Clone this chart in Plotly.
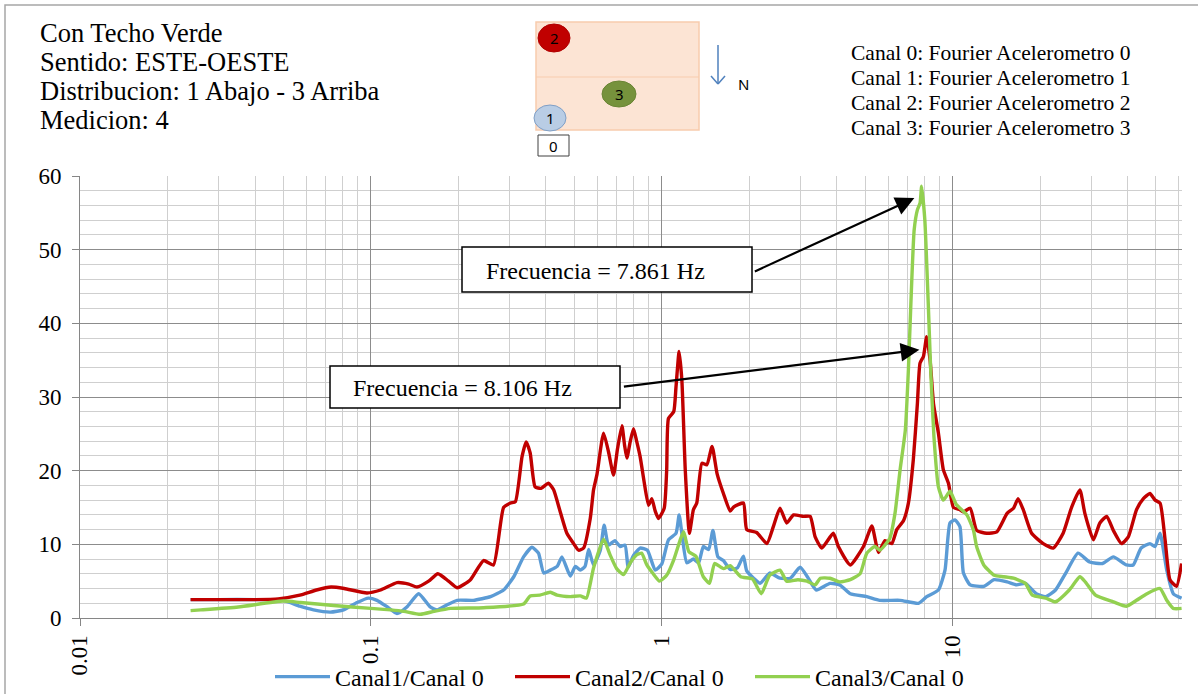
import numpy as np
import plotly.graph_objects as go

# ---------------- data ----------------
freq_c1 = [0.024, 0.030, 0.040, 0.050, 0.057, 0.0635, 0.0726, 0.0806, 0.0897, 0.098, 0.105, 0.114, 0.123, 0.133,
           0.146, 0.160, 0.169, 0.183, 0.198, 0.225, 0.258, 0.286, 0.310, 0.335, 0.358, 0.377, 0.393, 0.414, 0.437,
           0.454, 0.485, 0.505, 0.525, 0.545, 0.561, 0.583, 0.615, 0.634, 0.656, 0.690, 0.720, 0.748, 0.767, 0.800,
           0.843, 0.893, 0.950, 1.00, 1.055, 1.12, 1.148, 1.173, 1.22, 1.285, 1.34, 1.39, 1.45, 1.50, 1.56, 1.63,
           1.72, 1.82, 1.91, 1.96, 2.07, 2.18, 2.35, 2.55, 2.77, 2.99, 3.18, 3.40, 3.79, 4.09, 4.45, 5.07, 5.62,
           6.60, 7.63, 8.15, 8.94, 9.42, 9.80, 10.2, 10.6, 10.9, 11.5, 12.8, 13.9, 15.4, 16.6, 17.8, 19.4, 20.9,
           22.6, 24.5, 27.0, 29.6, 32.8, 35.7, 39.6, 41.8, 44.5, 47.7, 49.7, 51.7, 54.5, 57.4, 61.3]
val_c1 = [2.5, 2.5, 2.5, 2.4, 1.6, 1.1, 0.8, 1.1, 2.1, 2.7, 2.4, 1.5, 0.6, 1.5,
          3.3, 1.5, 1.1, 1.8, 2.4, 2.4, 2.9, 3.8, 5.6, 8.3, 9.6, 8.8, 6.1, 6.5, 7.0,
          8.3, 5.7, 7.0, 6.5, 7.0, 9.3, 7.2, 9.2, 12.6, 9.9, 10.5, 9.7, 9.9, 6.9, 8.5,
          9.5, 9.2, 6.5, 7.3, 10.6, 11.5, 14.0, 11.5, 7.5, 8.0, 7.5, 9.7, 9.3, 11.9, 8.3, 7.8,
          6.6, 6.8, 8.4, 6.4, 5.4, 4.7, 6.1, 5.4, 5.4, 6.9, 5.5, 3.8, 4.7, 4.5, 3.3, 2.9, 2.4,
          2.4, 2.0, 2.9, 3.8, 6.5, 12.9, 13.3, 12.4, 6.1, 4.5, 4.3, 5.2, 4.9, 4.5, 4.7, 3.3, 2.9,
          3.8, 6.1, 8.8, 7.6, 7.4, 8.3, 7.2, 7.2, 9.5, 10.1, 9.7, 11.5, 6.5, 3.3, 2.7]

freq_c2 = [0.024, 0.030, 0.040, 0.048, 0.057, 0.065, 0.073, 0.081, 0.097, 0.108, 0.123, 0.135, 0.144, 0.158,
           0.170, 0.185, 0.198, 0.220, 0.244, 0.264, 0.286, 0.302, 0.314, 0.331, 0.342, 0.353, 0.367, 0.385,
           0.408, 0.425, 0.448, 0.472, 0.498, 0.518, 0.539, 0.568, 0.583, 0.599, 0.631, 0.656, 0.683, 0.705,
           0.730, 0.745, 0.759, 0.780, 0.800, 0.820, 0.843, 0.870, 0.901, 0.925, 0.950, 0.975, 1.02, 1.04,
           1.055, 1.10, 1.12, 1.148, 1.173, 1.205, 1.245, 1.285, 1.32, 1.374, 1.43, 1.49, 1.55, 1.63, 1.72,
           1.77, 1.91, 1.96, 2.12, 2.30, 2.42, 2.55, 2.69, 2.84, 3.07, 3.24, 3.37, 3.55, 3.89, 4.05, 4.45,
           4.94, 5.28, 5.56, 5.86, 6.18, 6.43, 6.78, 7.05, 7.33, 7.57, 7.73, 7.94, 8.15, 8.37, 8.60, 8.94,
           9.30, 9.68, 10.07, 10.6, 10.9, 11.5, 12.1, 13.1, 14.2, 15.4, 16.2, 16.8, 17.5, 18.7, 20.5, 22.2,
           24.0, 25.7, 27.4, 28.5, 30.5, 32.1, 33.9, 35.7, 38.1, 40.2, 42.9, 45.3, 47.7, 49.7, 51.7, 53.8,
           55.9, 58.9, 61.3]
val_c2 = [2.5, 2.5, 2.5, 2.6, 3.1, 3.8, 4.2, 4.0, 3.4, 3.8, 4.8, 4.6, 4.2, 5.0,
          6.0, 5.0, 4.1, 5.2, 7.8, 7.2, 15.0, 15.6, 15.8, 21.9, 23.9, 22.4, 17.8, 17.6,
          18.3, 17.4, 14.4, 11.5, 10.1, 9.2, 9.5, 13.5, 17.4, 19.5, 25.1, 22.6, 19.4, 23.0,
          26.1, 23.5, 21.7, 24.0, 25.7, 24.0, 21.9, 18.5, 15.3, 16.2, 14.5, 13.5, 14.9, 20.0,
          27.1, 28.0, 31.4, 36.2, 32.3, 20.1, 11.5, 14.7, 15.6, 21.0, 20.8, 23.3, 19.6, 16.9, 14.5,
          15.1, 15.6, 12.0, 11.6, 10.1, 12.4, 14.9, 12.9, 14.0, 13.8, 13.8, 11.0, 9.5, 11.5, 9.7, 7.2,
          9.7, 12.5, 8.9, 10.5, 10.1, 12.0, 13.2, 15.6, 21.5, 29.1, 34.6, 35.5, 38.2, 35.0, 29.1, 25.1,
          20.1, 18.3, 15.0, 14.7, 14.4, 14.9, 11.9, 11.5, 11.7, 14.2, 14.9, 16.2, 14.7, 11.5, 10.1, 9.5,
          11.5, 15.1, 17.4, 14.2, 10.6, 12.9, 13.8, 11.9, 10.1, 11.0, 14.7, 16.2, 16.9, 16.0, 15.6, 10.6,
          5.2, 4.3, 7.4]

freq_c3 = [0.024, 0.026, 0.035, 0.050, 0.0573, 0.0745, 0.100, 0.117, 0.130, 0.148, 0.165, 0.188, 0.244, 0.335,
           0.353, 0.381, 0.414, 0.437, 0.485, 0.525, 0.551, 0.583, 0.631, 0.664, 0.700, 0.740, 0.780, 0.822,
           0.853, 0.889, 0.935, 0.983, 1.04, 1.10, 1.158, 1.19, 1.24, 1.31, 1.39, 1.46, 1.52, 1.63, 1.72, 1.87,
           2.05, 2.20, 2.35, 2.55, 2.69, 2.94, 3.16, 3.37, 3.51, 3.79, 4.09, 4.45, 4.81, 5.07, 5.41, 5.62, 6.08,
           6.34, 6.60, 6.88, 7.05, 7.19, 7.38, 7.57, 7.73, 7.83, 8.03, 8.25, 8.41, 8.63, 8.94, 9.30, 9.80, 10.3,
           11.2, 11.8, 12.1, 12.8, 13.9, 15.0, 16.2, 17.8, 18.8, 20.9, 22.6, 25.2, 27.4, 28.6, 31.0, 35.7, 39.6,
           42.9, 46.6, 51.7, 54.5, 57.4, 61.3]
val_c3 = [1.0, 1.1, 1.5, 2.3, 2.1, 1.7, 1.3, 1.1, 0.9, 0.5, 0.9, 1.3, 1.4, 1.9,
          3.0, 3.1, 3.5, 3.1, 2.9, 3.0, 2.7, 6.8, 10.7, 8.6, 6.7, 5.9, 7.5, 8.6,
          8.8, 7.2, 6.0, 5.0, 5.8, 7.9, 10.6, 11.7, 9.0, 8.4, 5.6, 4.7, 7.4, 6.7, 7.1, 5.6,
          5.3, 3.3, 5.8, 6.5, 5.0, 5.2, 5.0, 4.5, 5.4, 5.4, 4.9, 5.2, 6.0, 8.8, 9.7, 9.2, 10.8,
          14.2, 20.1, 25.5, 33.7, 42.7, 52.7, 55.4, 56.3, 58.6, 54.0, 42.7, 33.7, 24.6, 17.8, 16.0, 17.2, 15.4,
          14.0, 11.9, 9.7, 7.2, 5.8, 5.6, 5.4, 4.7, 3.1, 2.7, 2.2, 3.8, 5.6, 4.9, 3.1, 2.2, 1.6,
          2.4, 3.3, 4.0, 2.4, 1.3, 1.3]

series_names = ["Canal1/Canal 0", "Canal2/Canal 0", "Canal3/Canal 0"]
series_colors = ["#5B9BD5", "#C00000", "#92D050"]

x_major_ticks = [0.01, 0.1, 1, 10]
x_major_text = ["0.01", "0.1", "1", "10"]
x_minor_ticks = [m * d for d in (0.01, 0.1, 1, 10) for m in range(2, 10) if m * d <= 61]
y_major_ticks = [0, 10, 20, 30, 40, 50, 60]
y_minor_ticks = [v for v in range(2, 60, 2) if v % 10 != 0]

header_lines = ["Con Techo Verde", "Sentido: ESTE-OESTE", "Distribucion: 1 Abajo - 3 Arriba", "Medicion: 4"]
channel_lines = ["Canal 0: Fourier Acelerometro 0", "Canal 1: Fourier Acelerometro 1",
                 "Canal 2: Fourier Acelerometro 2", "Canal 3: Fourier Acelerometro 3"]
peak_labels = ["Frecuencia = 7.861 Hz", "Frecuencia = 8.106 Hz"]

# ---------------- geometry helpers ----------------
W, H = 1198, 694
L, R, T, B = 80, 16, 176, 76
PW = W - L - R
PH = H - T - B


def px(x):
    return (x - L) / PW


def py(y):
    return (H - B - y) / PH


SERIF = "Liberation Serif"
SANS = "Noto Sans"

fig = go.Figure()
for f, v, name, col in zip([freq_c1, freq_c2, freq_c3], [val_c1, val_c2, val_c3], series_names, series_colors):
    fig.add_trace(go.Scatter(x=f, y=v, mode="lines", name=name,
                             line=dict(color=col, width=3.4, shape="spline", smoothing=0.5)))

shapes = []
# outer chart border (only top/left visible)
shapes.append(dict(type="rect", xref="paper", yref="paper", x0=px(5), x1=px(1210), y0=py(710), y1=py(5),
                   line=dict(color="#A6A6A6", width=1.5), fillcolor="rgba(0,0,0,0)", layer="below"))
# building sketch
peach_line = "#F8CBAD"
shapes.append(dict(type="rect", xref="paper", yref="paper", x0=px(536), x1=px(699), y0=py(130), y1=py(22),
                   line=dict(color=peach_line, width=1.5), fillcolor="#FCE4D4"))
shapes.append(dict(type="line", xref="paper", yref="paper", x0=px(536), x1=px(699), y0=py(77), y1=py(77),
                   line=dict(color=peach_line, width=1.2)))


def ellipse(cx, cy, rx, ry, fill, line):
    return dict(type="circle", xref="paper", yref="paper", x0=px(cx - rx), x1=px(cx + rx),
                y0=py(cy + ry), y1=py(cy - ry), fillcolor=fill, line=dict(color=line, width=1))


shapes.append(ellipse(554, 38, 16, 14, "#C00000", "#B00000"))
shapes.append(ellipse(619, 94, 17, 13, "#76923C", "#6A8535"))
shapes.append(ellipse(550, 118, 16, 13, "#B9CDE5", "#7F9FC6"))
shapes.append(dict(type="rect", xref="paper", yref="paper", x0=px(538), x1=px(569), y0=py(156), y1=py(135),
                   line=dict(color="#404040", width=1), fillcolor="white"))
# north arrow
shapes.append(dict(type="line", xref="paper", yref="paper", x0=px(718), x1=px(718), y0=py(45), y1=py(84),
                   line=dict(color="#4F81BD", width=1.5)))
shapes.append(dict(type="line", xref="paper", yref="paper", x0=px(711), x1=px(718), y0=py(76), y1=py(84),
                   line=dict(color="#4F81BD", width=1.5)))
shapes.append(dict(type="line", xref="paper", yref="paper", x0=px(725), x1=px(718), y0=py(76), y1=py(84),
                   line=dict(color="#4F81BD", width=1.5)))
# frequency label boxes
shapes.append(dict(type="rect", xref="paper", yref="paper", x0=px(462), x1=px(752), y0=py(292), y1=py(247),
                   line=dict(color="black", width=1.5), fillcolor="white", layer="above"))
shapes.append(dict(type="rect", xref="paper", yref="paper", x0=px(330), x1=px(620), y0=py(408), y1=py(366),
                   line=dict(color="black", width=1.5), fillcolor="white", layer="above"))

annotations = []
for i, t in enumerate(header_lines):
    annotations.append(dict(text=t, xref="paper", yref="paper", x=px(38), y=py(33 + 29 * i),
                            xanchor="left", yanchor="middle", showarrow=False,
                            font=dict(family=SERIF, size=26.5, color="black")))
for i, t in enumerate(channel_lines):
    annotations.append(dict(text=t, xref="paper", yref="paper", x=px(849), y=py(53 + 25 * i),
                            xanchor="left", yanchor="middle", showarrow=False,
                            font=dict(family=SERIF, size=21.5, color="black")))
for t, cx, cy in [("2", 554, 38), ("3", 619, 94), ("1", 550, 118), ("0", 553.5, 146)]:
    annotations.append(dict(text=t, xref="paper", yref="paper", x=px(cx), y=py(cy), xanchor="center",
                            yanchor="middle", showarrow=False, font=dict(family=SANS, size=15, color="black")))
annotations.append(dict(text="N", xref="paper", yref="paper", x=px(743), y=py(84), xanchor="center",
                        yanchor="middle", showarrow=False, font=dict(family=SANS, size=15, color="black")))
annotations.append(dict(text=peak_labels[0], xref="paper", yref="paper", x=px(484), y=py(271),
                        xanchor="left", yanchor="middle", showarrow=False,
                        font=dict(family=SERIF, size=24, color="black")))
annotations.append(dict(text=peak_labels[1], xref="paper", yref="paper", x=px(351), y=py(388),
                        xanchor="left", yanchor="middle", showarrow=False,
                        font=dict(family=SERIF, size=24, color="black")))
# arrows pointing to the peaks
annotations.append(dict(text="", x=np.log10(7.39), y=57.0, xref="x", yref="y", ax=-161, ay=74,
                        showarrow=True, arrowhead=2, arrowsize=1.7, arrowwidth=2.2, arrowcolor="black",
                        standoff=0))
annotations.append(dict(text="", x=np.log10(7.69), y=36.4, xref="x", yref="y", ax=-297, ay=37,
                        showarrow=True, arrowhead=2, arrowsize=1.7, arrowwidth=2.2, arrowcolor="black",
                        standoff=0))

tickfont = dict(family=SERIF, size=23, color="black")
fig.update_layout(
    width=W, height=H,
    margin=dict(l=L, r=R, t=T, b=B, autoexpand=False),
    paper_bgcolor="white", plot_bgcolor="white",
    shapes=shapes, annotations=annotations,
    showlegend=True,
    legend=dict(orientation="h", x=px(630), xanchor="center", y=py(677), yanchor="middle",
                font=dict(family=SERIF, size=24, color="black"), bgcolor="rgba(0,0,0,0)",
                itemwidth=55, entrywidth=170, entrywidthmode="pixels"),
    xaxis=dict(type="log", range=[-2, np.log10(61.5)], tickmode="array", tickvals=x_major_ticks,
               ticktext=x_major_text, tickangle=-90, ticks="outside", ticklen=7, tickcolor="#868686",
               showgrid=True, gridcolor="#8C8C8C", gridwidth=1, showline=True, linecolor="#868686",
               linewidth=1, zeroline=False, tickfont=tickfont, automargin=False,
               minor=dict(tickmode="array", tickvals=x_minor_ticks, showgrid=True, gridcolor="#CFCFCF",
                          gridwidth=1.4, ticks="")),
    yaxis=dict(range=[0, 60], tickmode="array", tickvals=y_major_ticks, ticks="outside", ticklen=7,
               tickcolor="#868686", showgrid=True, gridcolor="#8C8C8C", gridwidth=1, showline=True,
               linecolor="#868686", linewidth=1, zeroline=False, tickfont=tickfont, ticklabelstandoff=6,
               automargin=False,
               minor=dict(tickmode="array", tickvals=y_minor_ticks, showgrid=True, gridcolor="#CFCFCF",
                          gridwidth=1.4, ticks="")),
)

fig.write_html("out.html")
